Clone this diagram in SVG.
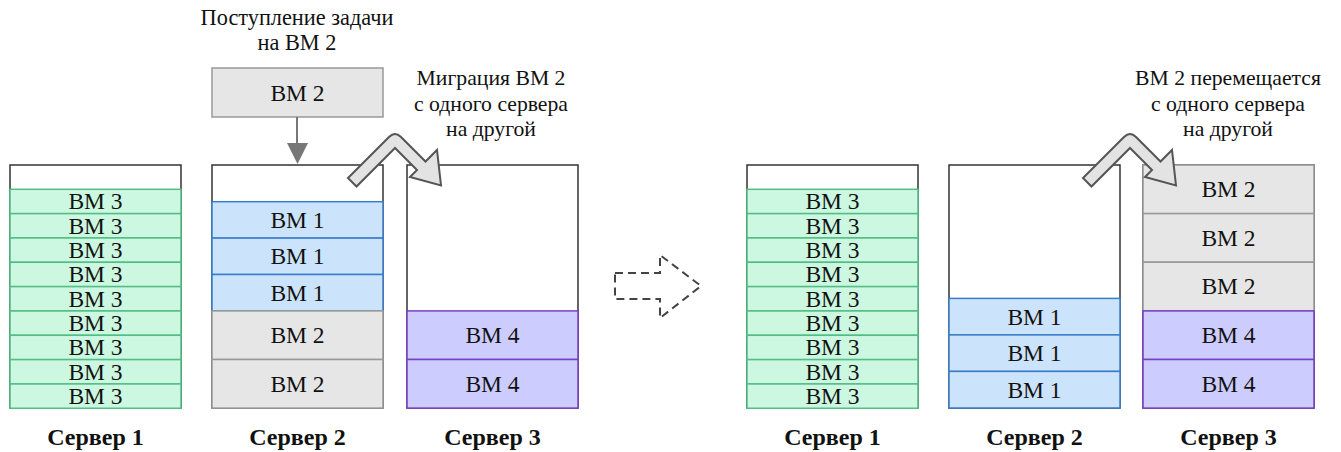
<svg xmlns="http://www.w3.org/2000/svg" width="1341" height="452" viewBox="0 0 1341 452" font-family="Liberation Serif, Times New Roman, serif">
<defs>
<style>
text{fill:#111;text-anchor:middle}
.vm{font-size:23.5px}
.cap{font-size:21.7px}
.cap2{font-size:22.3px}
.lbl{font-size:24px;font-weight:bold}
.srv{fill:#fff;stroke:#333;stroke-width:1.5}
.g{fill:#ccf7e1;stroke:#52bd84;stroke-width:1.5}
.b{fill:#cce4fb;stroke:#3a7cc8;stroke-width:1.5}
.k{fill:#e6e6e6;stroke:#999;stroke-width:1.5}
.p{fill:#ccccff;stroke:#7a3ec0;stroke-width:1.5}
.bend{fill:#e3e3e3;stroke:#555;stroke-width:2;stroke-linejoin:miter}
</style>
<path id="bendArrow" d="M348,178 L389,137 Q395,131 401,137 L425.5,161.5 L437,150 L441,185.5 L410,177 L417,170 L395,148 L356.5,186.5 Z"/>
</defs>
<rect width="1341" height="452" fill="#fff"/>

<g id="caption-arrival" font-family="Liberation Serif, serif">
<text class="cap2" x="297" y="25">Поступление задачи</text>
<text class="cap2" x="297" y="50">на ВМ 2</text>
</g>
<g id="caption-migration" font-family="Liberation Serif, serif">
<text class="cap" x="491" y="85">Миграция ВМ 2</text>
<text class="cap" x="491" y="110.5">с одного сервера</text>
<text class="cap" x="491" y="136">на другой</text>
</g>
<g id="caption-moved" font-family="Liberation Serif, serif">
<text class="cap" x="1228" y="85">ВМ 2 перемещается</text>
<text class="cap" x="1228" y="110.5">с одного сервера</text>
<text class="cap" x="1228" y="136">на другой</text>
</g>

<g id="incoming-vm2" font-family="Liberation Serif, serif">
<rect class="k" x="212" y="68" width="171" height="49"/>
<text class="vm" x="297.5" y="100.5">ВМ 2</text>
</g>

<g id="left-server1" font-family="Liberation Serif, serif">
<rect class="srv" x="10" y="165" width="171" height="243"/>
<rect class="g" x="10" y="189.3" width="171" height="24.33"/>
<rect class="g" x="10" y="213.63" width="171" height="24.33"/>
<rect class="g" x="10" y="237.96" width="171" height="24.33"/>
<rect class="g" x="10" y="262.29" width="171" height="24.33"/>
<rect class="g" x="10" y="286.62" width="171" height="24.33"/>
<rect class="g" x="10" y="310.95" width="171" height="24.33"/>
<rect class="g" x="10" y="335.28" width="171" height="24.33"/>
<rect class="g" x="10" y="359.61" width="171" height="24.33"/>
<rect class="g" x="10" y="383.94" width="171" height="24.33"/>
<text class="vm" x="95.5" y="209.3">ВМ 3</text>
<text class="vm" x="95.5" y="233.6">ВМ 3</text>
<text class="vm" x="95.5" y="257.9">ВМ 3</text>
<text class="vm" x="95.5" y="282.3">ВМ 3</text>
<text class="vm" x="95.5" y="306.6">ВМ 3</text>
<text class="vm" x="95.5" y="330.9">ВМ 3</text>
<text class="vm" x="95.5" y="355.3">ВМ 3</text>
<text class="vm" x="95.5" y="379.6">ВМ 3</text>
<text class="vm" x="95.5" y="403.9">ВМ 3</text>
<text class="lbl" x="95.5" y="445">Сервер 1</text>
</g>

<g id="left-server2" font-family="Liberation Serif, serif">
<rect class="srv" x="212" y="165" width="171" height="243"/>
<rect class="b" x="212" y="201.7" width="171" height="36.4"/>
<rect class="b" x="212" y="238.1" width="171" height="36.4"/>
<rect class="b" x="212" y="274.5" width="171" height="36.4"/>
<rect class="k" x="212" y="310.9" width="171" height="48.6"/>
<rect class="k" x="212" y="359.5" width="171" height="48.6"/>
<text class="vm" x="297.5" y="227.7">ВМ 1</text>
<text class="vm" x="297.5" y="264.1">ВМ 1</text>
<text class="vm" x="297.5" y="300.5">ВМ 1</text>
<text class="vm" x="297.5" y="343">ВМ 2</text>
<text class="vm" x="297.5" y="391.6">ВМ 2</text>
<text class="lbl" x="297.5" y="445">Сервер 2</text>
</g>

<g id="left-server3" font-family="Liberation Serif, serif">
<rect class="srv" x="407" y="165" width="171" height="243"/>
<rect class="p" x="407" y="310.9" width="171" height="48.6"/>
<rect class="p" x="407" y="359.5" width="171" height="48.6"/>
<text class="vm" x="492.5" y="343">ВМ 4</text>
<text class="vm" x="492.5" y="391.6">ВМ 4</text>
<text class="lbl" x="492.5" y="445">Сервер 3</text>
</g>

<g id="right-server1" font-family="Liberation Serif, serif">
<rect class="srv" x="747" y="165" width="171" height="243"/>
<rect class="g" x="747" y="189.3" width="171" height="24.33"/>
<rect class="g" x="747" y="213.63" width="171" height="24.33"/>
<rect class="g" x="747" y="237.96" width="171" height="24.33"/>
<rect class="g" x="747" y="262.29" width="171" height="24.33"/>
<rect class="g" x="747" y="286.62" width="171" height="24.33"/>
<rect class="g" x="747" y="310.95" width="171" height="24.33"/>
<rect class="g" x="747" y="335.28" width="171" height="24.33"/>
<rect class="g" x="747" y="359.61" width="171" height="24.33"/>
<rect class="g" x="747" y="383.94" width="171" height="24.33"/>
<text class="vm" x="832.5" y="209.3">ВМ 3</text>
<text class="vm" x="832.5" y="233.6">ВМ 3</text>
<text class="vm" x="832.5" y="257.9">ВМ 3</text>
<text class="vm" x="832.5" y="282.3">ВМ 3</text>
<text class="vm" x="832.5" y="306.6">ВМ 3</text>
<text class="vm" x="832.5" y="330.9">ВМ 3</text>
<text class="vm" x="832.5" y="355.3">ВМ 3</text>
<text class="vm" x="832.5" y="379.6">ВМ 3</text>
<text class="vm" x="832.5" y="403.9">ВМ 3</text>
<text class="lbl" x="832.5" y="445">Сервер 1</text>
</g>

<g id="right-server2" font-family="Liberation Serif, serif">
<rect class="srv" x="949" y="165" width="171" height="243"/>
<rect class="b" x="949" y="298.4" width="171" height="36.5"/>
<rect class="b" x="949" y="334.9" width="171" height="36.5"/>
<rect class="b" x="949" y="371.4" width="171" height="36.6"/>
<text class="vm" x="1034.5" y="324.5">ВМ 1</text>
<text class="vm" x="1034.5" y="361">ВМ 1</text>
<text class="vm" x="1034.5" y="397.6">ВМ 1</text>
<text class="lbl" x="1034.5" y="445">Сервер 2</text>
</g>

<g id="right-server3" font-family="Liberation Serif, serif">
<rect class="srv" x="1143" y="165" width="171" height="243"/>
<rect class="k" x="1143" y="165" width="171" height="48.6"/>
<rect class="k" x="1143" y="213.6" width="171" height="48.6"/>
<rect class="k" x="1143" y="262.2" width="171" height="48.6"/>
<rect class="p" x="1143" y="310.9" width="171" height="48.6"/>
<rect class="p" x="1143" y="359.5" width="171" height="48.6"/>
<text class="vm" x="1228.5" y="197.2">ВМ 2</text>
<text class="vm" x="1228.5" y="245.8">ВМ 2</text>
<text class="vm" x="1228.5" y="294.4">ВМ 2</text>
<text class="vm" x="1228.5" y="343">ВМ 4</text>
<text class="vm" x="1228.5" y="391.6">ВМ 4</text>
<text class="lbl" x="1228.5" y="445">Сервер 3</text>
</g>

<g id="connectors">
<line x1="297" y1="117" x2="297" y2="145" stroke="#777" stroke-width="2"/>
<path d="M287,143 L308,143 L297.5,164 Z" fill="#777"/>
<use href="#bendArrow" class="bend"/>
<use href="#bendArrow" class="bend" transform="translate(735,0)"/>
<path d="M615,273 L660,273 L660,255 L701,286 L660,318 L660,299 L615,299 Z" fill="none" stroke="#444" stroke-width="2" stroke-dasharray="8,5"/>
</g>
</svg>
